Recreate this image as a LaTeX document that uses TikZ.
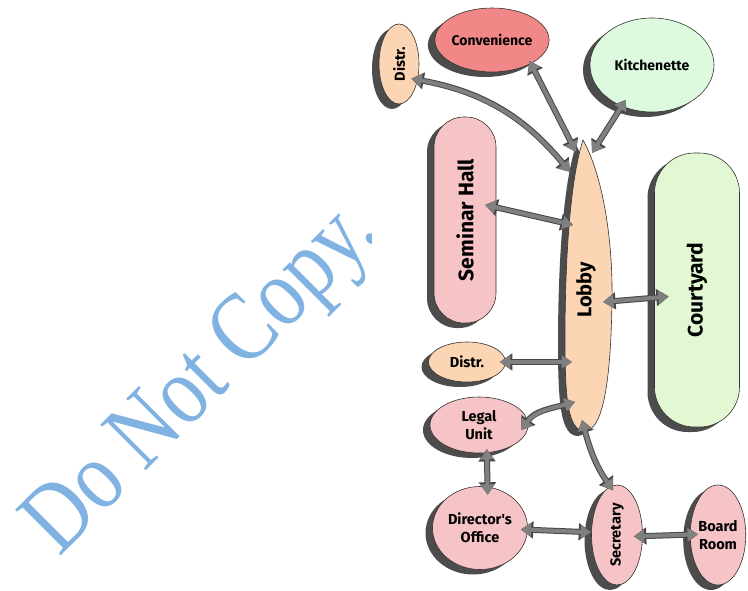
\documentclass[tikz,border=0pt]{standalone}
\usepackage{fontspec}
\usepackage{graphicx}
\setmainfont{Liberation Serif}
\newfontfamily\labfont{Fira Sans}
\usetikzlibrary{shapes.geometric, arrows.meta, shadows, calc}
\definecolor{peachc}{RGB}{252,213,180}
\definecolor{convc}{RGB}{242,135,135}
\definecolor{kitchc}{RGB}{222,250,222}
\definecolor{courtc}{RGB}{226,248,210}
\definecolor{pinkc}{RGB}{246,196,198}
\definecolor{arrowgray}{RGB}{128,128,128}
\definecolor{wmblue}{RGB}{128,178,226}
\tikzset{
  shad/.style={drop shadow={shadow xshift=-7pt, shadow yshift=-5pt, fill=black!70, opacity=1}},
  room/.style={ellipse, draw=black!80, line width=0.6pt, inner sep=0pt, align=center, shad,
    font=\labfont\bfseries\fontsize{14.5}{18}\selectfont},
  blob/.style={rectangle, draw=black!80, line width=0.6pt, inner sep=0pt, shad,
    font=\labfont\bfseries\fontsize{21}{24}\selectfont},
  link/.style={draw=arrowgray, line width=4pt,
    arrows={Triangle[length=10.5pt,width=13pt]-Triangle[length=10.5pt,width=13pt]},
    preaction={draw=black!72, line width=6pt,
      arrows={Triangle[length=12.5pt,width=16.5pt]-Triangle[length=12.5pt,width=16.5pt]}}}
}
\begin{document}
\begin{tikzpicture}[x=1pt,y=-1pt]
\useasboundingbox (0,0) rectangle (748,591);
% watermark
\node[font=\fontsize{82}{82}\selectfont, text=wmblue, rotate=45, anchor=base west, inner sep=0pt] (wm) at (59,558) {\scalebox{1}[1.2]{Do Not Copy.}};
\fill[white] (372,8) rectangle (748,591);
% lobby shape
\path[draw=black!80, line width=0.6pt, fill=peachc, shad]
  (583,140) .. controls (600,170) and (613,230) .. (612,300)
  .. controls (611,370) and (605,430) .. (585,431)
  .. controls (568,431) and (565,400) .. (565,340)
  .. controls (565,260) and (570,180) .. (583,140) -- cycle;
\node[font=\labfont\bfseries\fontsize{20}{24}\selectfont, inner sep=0pt] (lobby) at (586,290) {\rotatebox{90}{Lobby}};
\coordinate (lobA) at (570,172);
\coordinate (lobB) at (576,152);
\coordinate (lobC) at (592,153);
\coordinate (lobD) at (573,225);
\coordinate (lobE) at (603,302);
\coordinate (lobF) at (572,362);
\coordinate (lobG) at (575,402);
\coordinate (lobH) at (582,420);
% rooms
\node[room, fill=peachc, minimum width=40pt, minimum height=80pt] (distrT) at (399,64) {\rotatebox{90}{Distr.}};
\node[room, fill=convc, minimum width=112pt, minimum height=64pt, font=\labfont\bfseries\fontsize{14}{16}\selectfont] (conv) at (492,40) {Convenience};
\node[room, fill=kitchc, minimum width=124pt, minimum height=94pt, font=\labfont\bfseries\fontsize{14}{16}\selectfont] (kitch) at (652,65) {Kitchenette};
\node[blob, fill=pinkc, rounded corners=30pt, minimum width=62pt, minimum height=206pt] (semh) at (465,220) {\rotatebox{90}{Seminar Hall}};
\node[blob, fill=courtc, rounded corners=40pt, minimum width=85pt, minimum height=274pt] (court) at (697,290) {\rotatebox{90}{Courtyard}};
\node[room, fill=peachc, minimum width=77pt, minimum height=40pt] (distrM) at (467,362) {Distr.};
\node[room, fill=pinkc, minimum width=98pt, minimum height=56pt] (legal) at (479,425) {Legal\\Unit};
\node[room, fill=pinkc, minimum width=95pt, minimum height=83pt] (dir) at (480,528) {Director's\\Office};
\node[room, fill=pinkc, minimum width=51pt, minimum height=100pt] (sec) at (617,535) {\rotatebox{90}{Secretary}};
\node[room, fill=pinkc, minimum width=53pt, minimum height=100pt] (board) at (718,535) {Board\\Room};
% connectors
\draw[link] ($(distrT.-50)!8pt!(distrT)$) to[bend left=20] (lobA);
\draw[link] ($(conv.-29)!4pt!(conv)$) -- (lobB);
\draw[link] ($(kitch.-127)!8pt!(kitch)$) -- (lobC);
\draw[link] ($(semh.37)!14pt!(semh)$) -- (lobD);
\draw[link] (lobE) -- ($(court.193)!15pt!(court)$);
\draw[link] ($(distrM.east)!6pt!(distrM)$) -- (lobF);
\draw[link] ($(legal.-7)!6pt!(legal)$) to[out=55, in=195] (lobG);
\draw[link] ($(sec.95)!5pt!(sec)$) to[out=125, in=-75] (lobH);
\draw[link] ($(legal.-72)!4pt!(legal)$) -- ($(dir.77)!8pt!(dir)$);
\draw[link] ($(dir.-2)!7pt!(dir)$) -- (sec.174);
\draw[link] ($(sec.-5)!9pt!(sec)$) -- ($(board.178)!8pt!(board)$);
\end{tikzpicture}
\end{document}
